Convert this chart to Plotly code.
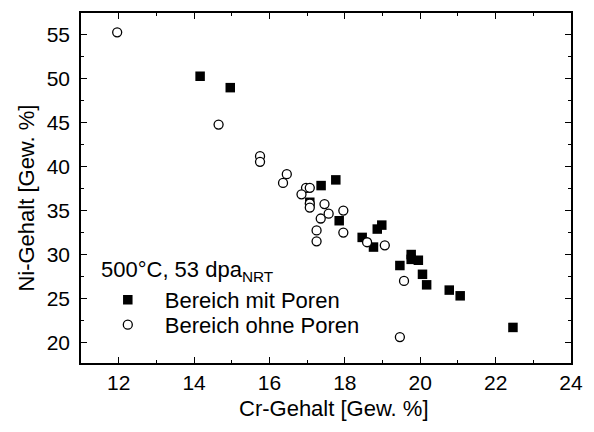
import plotly.graph_objects as go

# Bereich mit Poren (filled squares)
cr_mit = [14.16, 14.96, 17.37, 17.76, 17.07, 17.85, 18.46, 18.76, 18.86, 18.98,
          19.46, 19.76, 19.76, 19.95, 20.06, 20.17, 20.77, 21.06, 22.46]
ni_mit = [50.3, 49.0, 37.85, 38.5, 35.95, 33.85, 31.95, 30.85, 32.9, 33.35,
          28.75, 30.0, 29.45, 29.35, 27.75, 26.55, 25.95, 25.3, 21.7]

# Bereich ohne Poren (open circles)
cr_ohne = [11.96, 14.65, 15.75, 15.75, 16.46, 16.36, 16.97, 17.07, 16.85, 17.07,
           17.07, 17.46, 17.57, 17.36, 17.96, 17.25, 17.25, 17.96, 18.59, 19.06,
           19.57, 19.46]
ni_ohne = [55.3, 44.8, 41.2, 40.55, 39.15, 38.15, 37.6, 37.6, 36.85, 35.8,
           35.35, 35.75, 34.65, 34.1, 35.0, 32.75, 31.5, 32.5, 31.4, 31.05,
           27.0, 20.6]

x_ticks = [12, 14, 16, 18, 20, 22, 24]
y_ticks = [20, 25, 30, 35, 40, 45, 50, 55]

FONT = "Arial, Liberation Sans, sans-serif"

fig = go.Figure()
fig.add_trace(go.Scatter(
    x=cr_mit, y=ni_mit, mode="markers", name="Bereich mit Poren",
    marker=dict(symbol="square", size=9.5, color="black", line=dict(width=0)),
    legend="legend",
))
fig.add_trace(go.Scatter(
    x=cr_ohne, y=ni_ohne, mode="markers", name="Bereich ohne Poren",
    marker=dict(symbol="circle", size=9, color="white",
                line=dict(color="black", width=1.3)),
    legend="legend2",
))

axis_common = dict(
    showline=True, linecolor="black", linewidth=1.5, mirror="allticks",
    ticks="inside", ticklen=6, tickwidth=1.3, tickcolor="black",
    showgrid=False, zeroline=False,
    tickfont=dict(family=FONT, size=21, color="black"),
)

fig.update_xaxes(
    range=[11, 24], tickvals=x_ticks, ticktext=[str(v) for v in x_ticks],
    minor=dict(ticks="inside", ticklen=3.5, dtick=1, tick0=11, tickcolor="black",
               tickwidth=1.3, showgrid=False),
    ticklabelstandoff=0,
    **axis_common,
)
fig.update_yaxes(
    range=[17.65, 57.5], tickvals=y_ticks, ticktext=[str(v) for v in y_ticks],
    minor=dict(ticks="inside", ticklen=3.5, dtick=2.5, tick0=17.5, tickcolor="black",
               tickwidth=1.3, showgrid=False),
    ticklabelstandoff=5,
    **axis_common,
)

fig.add_annotation(
    text="Cr-Gehalt [Gew. %]", xref="paper", yref="paper",
    x=0.516, y=-0.13, xanchor="center", yanchor="middle", showarrow=False,
    font=dict(family=FONT, size=22, color="black"),
)
fig.add_annotation(
    text="Ni-Gehalt [Gew. %]", xref="paper", yref="paper",
    x=-0.112, y=0.47, xanchor="center", yanchor="middle", showarrow=False,
    textangle=-90, font=dict(family=FONT, size=22, color="black"),
)
fig.add_annotation(
    text="500°C, 53 dpa<sub>NRT</sub>", xref="paper", yref="paper",
    x=0.037, y=0.262, xanchor="left", yanchor="middle", showarrow=False,
    font=dict(family=FONT, size=22, color="black"),
)

legend_common = dict(
    xanchor="left", yanchor="middle",
    bgcolor="rgba(0,0,0,0)", borderwidth=0,
    itemwidth=64, font=dict(family=FONT, size=22, color="black"),
)

fig.update_layout(
    width=594, height=432,
    margin=dict(l=80.7, r=14, t=11, b=68.5),
    paper_bgcolor="white", plot_bgcolor="white",
    showlegend=True,
    legend=dict(x=0.02, y=0.180, **legend_common),
    legend2=dict(x=0.02, y=0.109, **legend_common),
)

fig.write_html("out.html")
